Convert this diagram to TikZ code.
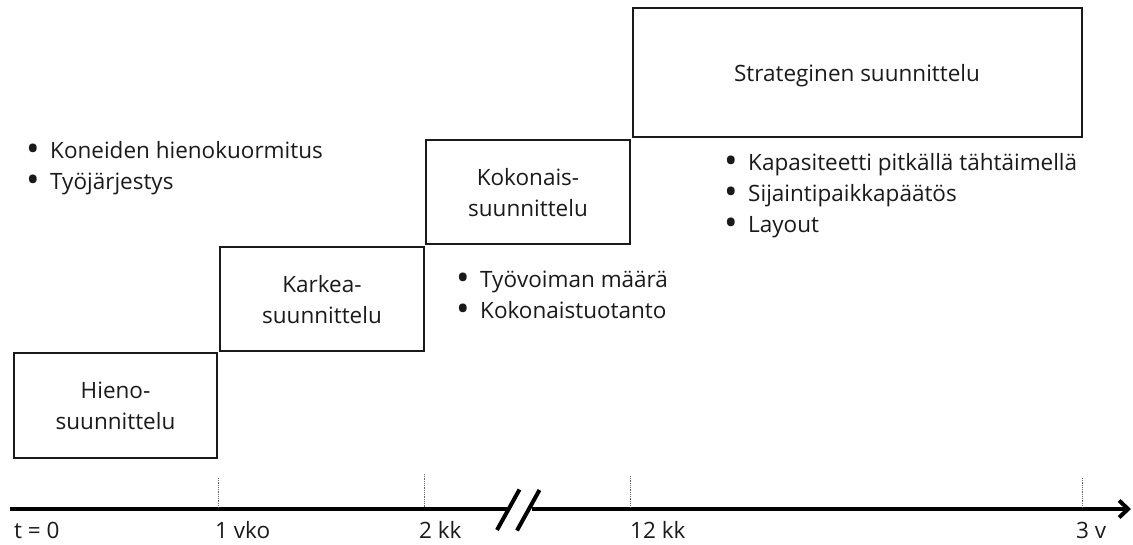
\documentclass[tikz,border=0pt]{standalone}
\usepackage{fontspec}
\setmainfont{Open Sans}
\usetikzlibrary{arrows.meta}
\definecolor{txt}{HTML}{1A1A1A}
\begin{document}
\begin{tikzpicture}[x=1pt,y=-1pt,
  every node/.style={font=\fontsize{22.5}{31}\selectfont, text=txt, inner sep=0pt},
  planbox/.style={draw=txt, line width=2pt},
  boxtext/.style={align=center},
  bulletlist/.style={align=left, anchor=west},
  tickline/.style={gray!80!black, line width=0.8pt, densely dotted},
  axisline/.style={line width=4.2pt, black},
  breakmark/.style={line width=4pt, black},
  ticklabel/.style={anchor=base west}]
\useasboundingbox (0,0) rectangle (1133,544);
\newcommand{\bul}{\makebox[24pt][l]{\smash{\raisebox{-0.15em}{\scalebox{1.6}{•}}}}}
% boxes
\draw[planbox] (14,353) rectangle (217,458);
\node[boxtext] (hieno) at (115.5,406) {Hieno-\\suunnittelu};
\draw[planbox] (220,247) rectangle (424,351);
\node[boxtext] (karkea) at (322,299.5) {Karkea-\\suunnittelu};
\draw[planbox] (426,140) rectangle (630,244);
\node[boxtext] (kokon) at (528,192.5) {Kokonais-\\suunnittelu};
\draw[planbox] (632.5,8) rectangle (1081.5,136.5);
\node[boxtext] (strat) at (857,75.5) {Strateginen suunnittelu};
% bullet lists
\node[bulletlist] (l1) at (26,168) {\bul Koneiden hienokuormitus\\\bul Työjärjestys};
\node[bulletlist] (l2) at (456,294.5) {\bul Työvoiman määrä\\\bul Kokonaistuotanto};
\node[bulletlist] (l3) at (724,195.5) {\bul Kapasiteetti pitkällä tähtäimellä\\\bul Sijaintipaikkapäätös\\\bul Layout};
% axis
\coordinate (a0) at (10,509);
\coordinate (b1) at (507,509);
\coordinate (b2) at (532,509);
\coordinate (aend) at (1131,509);
\draw[axisline] (a0) -- (b1);
\draw[axisline, -{Straight Barb[length=9pt,width=17pt,line width=4pt]}] (b2) -- (aend);
\draw[breakmark] (497,530) -- (519.5,489.5);
\draw[breakmark] (517,530.5) -- (539.5,490);
% ticks
\coordinate (t1) at (218,478); \coordinate (t1b) at (218,507);
\coordinate (t2) at (424,474); \coordinate (t2b) at (424,507);
\coordinate (t3) at (630,476); \coordinate (t3b) at (630,507);
\coordinate (t4) at (1082,478); \coordinate (t4b) at (1082,507);
\draw[tickline] (t1) -- (t1b);
\draw[tickline] (t2) -- (t2b);
\draw[tickline] (t3) -- (t3b);
\draw[tickline] (t4) -- (t4b);
% labels
\node[ticklabel] (x0) at (14,538) {t = 0};
\node[ticklabel] (x1) at (215,538) {1 vko};
\node[ticklabel] (x2) at (419,538) {2 kk};
\node[ticklabel] (x3) at (630,538) {12 kk};
\node[ticklabel] (x4) at (1076,538) {3 v};
\end{tikzpicture}
\end{document}
